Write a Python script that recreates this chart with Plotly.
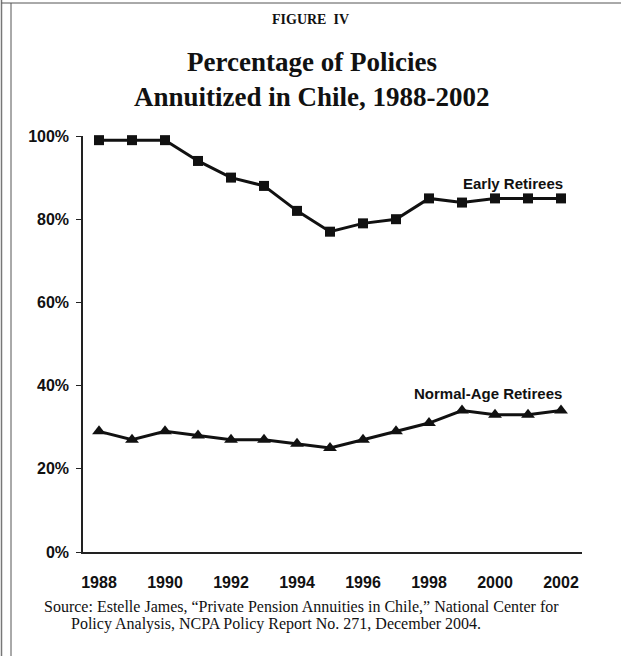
import plotly.graph_objects as go

years = list(range(1988, 2003))
early_retirees = [99, 99, 99, 94, 90, 88, 82, 77, 79, 80, 85, 84, 85, 85, 85]
normal_age_retirees = [29, 27, 29, 28, 27, 27, 26, 25, 27, 29, 31, 34, 33, 33, 34]
y_ticks = [0, 20, 40, 60, 80, 100]
x_ticks = list(range(1988, 2003, 2))

W, H = 621, 656
L, R, T, B = 83, 39, 136, 104
PW, PH = W - L - R, H - T - B


def px(x):
    return (x - L) / PW


def py(y):
    return (H - B - y) / PH


fig = go.Figure()
fig.add_trace(go.Scatter(
    x=years, y=early_retirees, mode="lines+markers",
    line=dict(color="#111111", width=3),
    marker=dict(symbol="square", size=10, color="#111111"),
    showlegend=False, cliponaxis=False))
fig.add_trace(go.Scatter(
    x=years, y=normal_age_retirees, mode="lines+markers",
    line=dict(color="#111111", width=3),
    marker=dict(symbol="triangle-up", size=12, color="#111111"),
    showlegend=False, cliponaxis=False))

tick_font = dict(family="Liberation Sans, Arial", size=16, color="#111111")
fig.update_layout(
    width=W, height=H,
    margin=dict(l=L, r=R, t=T, b=B),
    paper_bgcolor="white", plot_bgcolor="white",
    xaxis=dict(range=[1987.515, 2002.636], tickvals=x_ticks,
               ticktext=[f"<b>{v}</b>" for v in x_ticks],
               showgrid=False, zeroline=False, showline=True,
               linecolor="#222222", linewidth=1.5, ticks="",
               tickfont=tick_font, ticklabelstandoff=15),
    yaxis=dict(range=[0, 100], tickvals=y_ticks,
               ticktext=[f"<b>{v}%</b>" for v in y_ticks],
               showgrid=False, zeroline=False, showline=True,
               linecolor="#222222", linewidth=1.5, ticks="outside",
               ticklen=5, tickcolor="#222222", tickwidth=1,
               tickfont=tick_font, ticklabelstandoff=4),
)

serif = "Liberation Serif, Times New Roman"
sans = "Liberation Sans, Arial"
ann = [
    dict(text="<b>FIGURE  IV</b>", x=px(310), y=py(19), size=14, font=serif, xanchor="center"),
    dict(text="<b>Percentage of Policies</b>", x=px(312), y=py(62), size=27, font=serif, xanchor="center"),
    dict(text="<b>Annuitized in Chile, 1988-2002</b>", x=px(312), y=py(97), size=27, font=serif, xanchor="center"),
    dict(text="<b>Early Retirees</b>", x=px(565), y=py(183), size=15, font=sans, xanchor="right"),
    dict(text="<b>Normal-Age Retirees</b>", x=px(564), y=py(393), size=15, font=sans, xanchor="right"),
    dict(text="Source: Estelle James, \u201cPrivate Pension Annuities in Chile,\u201d National Center for",
         x=px(42), y=py(606), size=16, font=serif, xanchor="left"),
    dict(text="Policy Analysis, NCPA Policy Report No. 271, December 2004.",
         x=px(69), y=py(624), size=16, font=serif, xanchor="left"),
]
for a in ann:
    fig.add_annotation(text=a["text"], x=a["x"], y=a["y"], xref="paper", yref="paper",
                       xanchor=a["xanchor"], yanchor="middle", showarrow=False,
                       font=dict(family=a["font"], size=a["size"], color="#111111"))

# page frame
fig.add_shape(type="line", xref="paper", yref="paper", x0=px(1.5), x1=px(1.5), y0=py(0), y1=py(H),
              line=dict(color="#777777", width=1.5))
fig.add_shape(type="line", xref="paper", yref="paper", x0=px(11), x1=px(11), y0=py(3), y1=py(H),
              line=dict(color="#555555", width=1))
fig.add_shape(type="line", xref="paper", yref="paper", x0=px(1.5), x1=px(W), y0=py(3), y1=py(3),
              line=dict(color="#555555", width=1))

fig.write_html("out.html")
